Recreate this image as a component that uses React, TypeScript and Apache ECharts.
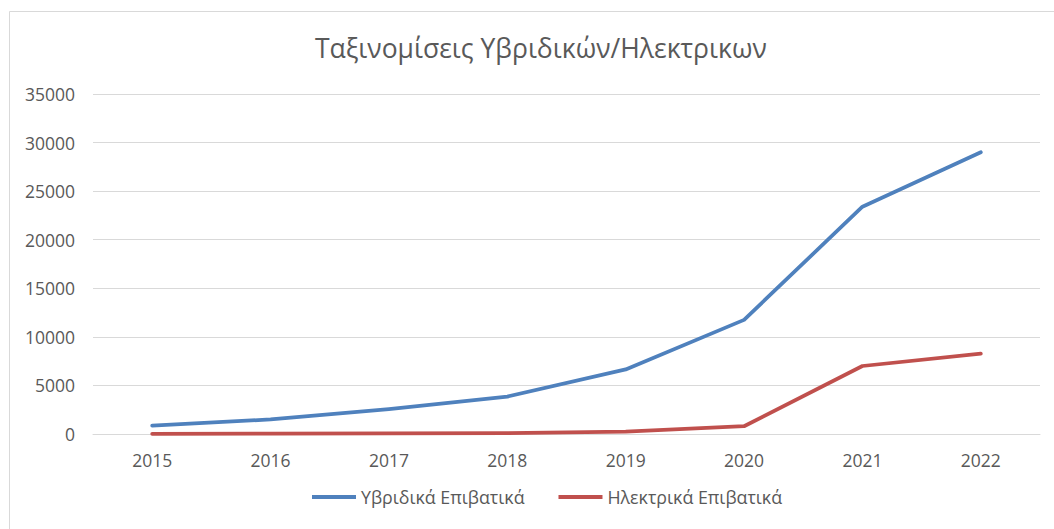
import React, { useEffect, useRef } from "react";
import * as echarts from "echarts";

const years = ["2015", "2016", "2017", "2018", "2019", "2020", "2021", "2022"];
const hybrid = [850, 1500, 2550, 3850, 6650, 11750, 23400, 29000];
const electric = [20, 40, 60, 80, 240, 800, 7000, 8270];
const seriesNames = ["Υβριδικά Επιβατικά", "Ηλεκτρικά Επιβατικά"];
const title = "Ταξινομίσεις Υβριδικών/Ηλεκτρικων";

const FONT = "Open Sans";
const TXT = "#595959";

export default function App() {
  const ref = useRef<HTMLDivElement>(null);
  useEffect(() => {
    if (!ref.current) return;
    const chart = echarts.init(ref.current, undefined, { renderer: "svg" });
    chart.setOption({
      animation: false,
      backgroundColor: "#ffffff",
      title: {
        text: title,
        left: 310,
        top: 29,
        textStyle: { fontFamily: FONT, fontSize: 26.5, fontWeight: "normal", color: TXT },
      },
      graphic: [
        {
          type: "rect",
          shape: { x: 9.5, y: 11.5, width: 1200, height: 700 },
          style: { fill: "none", stroke: "#d9d9d9", lineWidth: 1 },
          silent: true,
        },
      ],
      legend: {
        bottom: 18,
        left: 307,
        icon: "rect",
        itemWidth: 44,
        itemHeight: 4,
        itemGap: 34,
        textStyle: { fontFamily: FONT, fontSize: 17.8, color: TXT },
        data: seriesNames,
      },
      grid: { left: 93, right: 14, top: 94, bottom: 95, containLabel: false },
      xAxis: {
        type: "category",
        data: years,
        boundaryGap: true,
        axisLine: { show: true, lineStyle: { color: "#d9d9d9", width: 1 } },
        axisTick: { show: false },
        axisLabel: { fontFamily: FONT, fontSize: 17.5, color: TXT, margin: 17 },
      },
      yAxis: {
        type: "value",
        min: 0,
        max: 35000,
        interval: 5000,
        axisLine: { show: false },
        axisTick: { show: false },
        splitLine: { lineStyle: { color: "#d9d9d9", width: 1 } },
        axisLabel: {
          fontFamily: FONT,
          fontSize: 17.5,
          color: TXT,
          margin: 18,
          formatter: (v: number) => String(v),
        },
      },
      series: [
        {
          name: seriesNames[0],
          type: "line",
          data: hybrid,
          symbol: "none",
          lineStyle: { color: "#4F81BD", width: 3.75, cap: "round", join: "round" },
          itemStyle: { color: "#4F81BD" },
        },
        {
          name: seriesNames[1],
          type: "line",
          data: electric,
          symbol: "none",
          lineStyle: { color: "#C0504D", width: 3.75, cap: "round", join: "round" },
          itemStyle: { color: "#C0504D" },
        },
      ],
    });
    return () => chart.dispose();
  }, []);
  return (
    <div
      ref={ref}
      style={{ position: "absolute", left: 0, top: 0, width: 1054, height: 529 }}
    />
  );
}
